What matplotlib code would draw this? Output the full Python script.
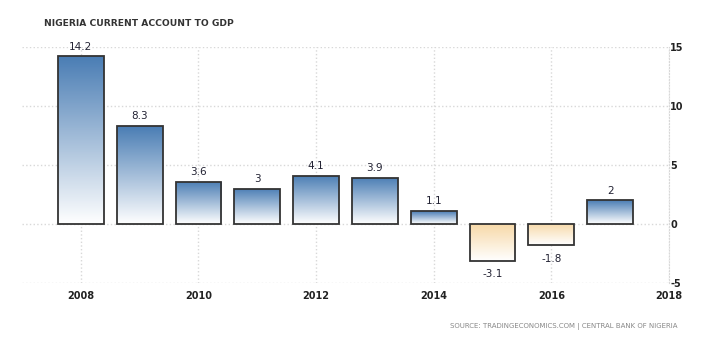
import numpy as np
import matplotlib
matplotlib.use("Agg")
import matplotlib.pyplot as plt
from matplotlib.colors import LinearSegmentedColormap
from matplotlib.patches import Rectangle

plt.rcParams["axes.unicode_minus"] = False

years = [2008, 2009, 2010, 2011, 2012, 2013, 2014, 2015, 2016, 2017]
values = [14.2, 8.3, 3.6, 3.0, 4.1, 3.9, 1.1, -3.1, -1.8, 2.0]
labels = ["14.2", "8.3", "3.6", "3", "4.1", "3.9", "1.1", "-3.1", "-1.8", "2"]
x_ticks = [2008, 2010, 2012, 2014, 2016, 2018]
y_ticks = [-5, 0, 5, 10, 15]

blue = LinearSegmentedColormap.from_list("b", ["#ffffff", "#4a7db4"])
orange = LinearSegmentedColormap.from_list("o", ["#ffffff", "#f7d9a8"])
grad = np.linspace(0, 1, 256).reshape(-1, 1)

fig = plt.figure(figsize=(7.01, 3.62), dpi=100)
ax = fig.add_axes([22 / 701, 79 / 362, 647 / 701, 236 / 362])

width = 0.78
for yr, v, lab in zip(years, values, labels):
    x0 = yr - width / 2
    cmap = blue if v >= 0 else orange
    im = ax.imshow(grad, cmap=cmap, aspect="auto", origin="lower",
                   extent=[x0, x0 + width, min(0, v), max(0, v)], zorder=2)
    rect = Rectangle((x0, 0), width, v, facecolor="none",
                     edgecolor="#333333", linewidth=1.3, zorder=3)
    ax.add_patch(rect)
    im.set_clip_path(rect)
    if v >= 0:
        ax.text(yr, v + 0.4, lab, ha="center", va="bottom", fontsize=7.5, color="#222233")
    else:
        ax.text(yr, v - 0.75, lab, ha="center", va="top", fontsize=7.5, color="#222233")

ax.set_xlim(2007, 2018)
ax.set_ylim(-5, 15)
ax.set_xticks(x_ticks)
ax.set_yticks(y_ticks)
ax.yaxis.tick_right()
ax.tick_params(axis="both", length=0, labelsize=7, colors="#222222")
ax.tick_params(axis="x", pad=6)
ax.tick_params(axis="y", pad=1)
for t in ax.get_xticklabels() + ax.get_yticklabels():
    t.set_fontweight("bold")
ax.grid(True, color="#d8d8d8", linestyle=":", linewidth=1.0, zorder=0)
ax.set_axisbelow(True)
for s in ["top", "left", "bottom"]:
    ax.spines[s].set_visible(False)
ax.spines["right"].set_color("#d8d8d8")
ax.spines["right"].set_linestyle(":")

fig.text(44 / 701, 1 - 23 / 362, "NIGERIA CURRENT ACCOUNT TO GDP", fontsize=6.6,
         fontweight="bold", color="#333333", va="center", ha="left")
fig.text(677 / 701, 1 - 327 / 362, "SOURCE: TRADINGECONOMICS.COM | CENTRAL BANK OF NIGERIA",
         fontsize=5, color="#888888", va="center", ha="right")

fig.savefig("out.png", dpi=100)
